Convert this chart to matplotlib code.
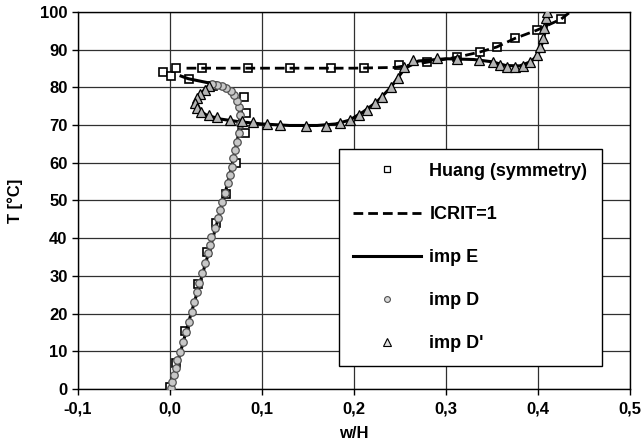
import numpy as np
import matplotlib
matplotlib.use("Agg")
import matplotlib.pyplot as plt
from matplotlib.lines import Line2D

plt.rcParams['font.family'] = ['Liberation Sans', 'DejaVu Sans']
plt.rcParams['font.weight'] = 'bold'

nan = np.nan

# Huang (symmetry) - squares
huang_w = [-0.008, 0.001, 0.0065, 0.021, 0.035, 0.047, 0.085, 0.080, 0.083, 0.082,
           0.072, 0.061, 0.050, 0.040, 0.030, 0.016, 0.0065, 0.000,
           0.130, 0.175, 0.211, 0.249, 0.279, 0.312, 0.337, 0.355, 0.375, 0.399, 0.425]
huang_T = [84.1, 83.0, 85.1, 82.2, 85.1, 80.4, 85.1, 77.5, 73.2, 67.9,
           59.9, 51.8, 44.0, 36.3, 27.8, 15.3, 6.9, 0.4,
           85.1, 85.1, 85.1, 86.0, 86.7, 88.0, 89.4, 90.7, 93.1, 95.2, 98.1]

# ICRIT=1 - dashed line
icrit_w = [0.018, 0.05, 0.10, 0.15, 0.20, 0.245, 0.28, 0.312, 0.337, 0.355, 0.375, 0.399, 0.425, 0.435]
icrit_T = [85.1, 85.1, 85.1, 85.1, 85.1, 85.3, 86.7, 88.0, 89.4, 90.7, 93.0, 95.2, 98.1, 100.0]

# imp E - solid line (two branches)
impE_w = [0.000, 0.010, 0.020, 0.030, 0.040, 0.050, 0.060, 0.068, 0.074, 0.076, 0.075, 0.071,
          0.065, 0.058, 0.050, 0.040, 0.030, 0.020, 0.012, nan,
          0.040, 0.032, 0.028, 0.031, 0.040, 0.055, 0.075, 0.100, 0.130, 0.160, 0.180, 0.195,
          0.210, 0.225, 0.240, 0.255, 0.270, 0.300, 0.330, 0.350, 0.365, 0.380, 0.392, 0.400,
          0.405, 0.409, 0.412]
impE_T = [0.0, 8.5, 17.5, 26.0, 34.5, 43.0, 52.0, 60.0, 67.0, 72.0, 75.0, 77.8,
          79.4, 80.4, 80.9, 81.3, 81.8, 82.3, 83.0, nan,
          80.0, 78.0, 76.0, 74.0, 72.6, 71.6, 70.9, 70.3, 69.9, 69.9, 70.3, 71.3,
          73.5, 76.2, 80.0, 85.0, 87.0, 87.6, 87.4, 86.8, 85.8, 85.7, 86.8, 88.6,
          92.0, 96.0, 100.0]

# imp D - circles
impD_w = [0.001, 0.002, 0.004, 0.006, 0.008, 0.011, 0.014, 0.017, 0.021, 0.024, 0.026, 0.029,
          0.032, 0.035, 0.038, 0.041, 0.043, 0.045, 0.049, 0.052, 0.054, 0.057, 0.060, 0.063,
          0.065, 0.067, 0.069, 0.071, 0.073, 0.075, 0.076, 0.076, 0.075, 0.073, 0.070, 0.066,
          0.061, 0.056, 0.051, 0.046]
impD_T = [0.3, 1.9, 3.7, 5.6, 7.7, 9.8, 12.5, 15.1, 17.8, 20.4, 23.1, 25.7,
          28.1, 30.8, 33.4, 36.1, 38.2, 40.3, 42.7, 45.4, 47.5, 49.6, 52.0, 54.6,
          56.8, 58.9, 61.3, 63.4, 65.5, 67.9, 70.3, 72.6, 74.7, 76.5, 78.0, 79.1,
          79.9, 80.4, 80.7, 80.8]

# imp D' - triangles
impDp_w = [0.042, 0.038, 0.033, 0.029, 0.027, 0.029, 0.034, 0.042, 0.051, 0.065, 0.078, 0.090,
           0.105, 0.120, 0.148, 0.170, 0.185, 0.196, 0.205, 0.214, 0.223, 0.230, 0.240, 0.248,
           0.254, 0.264, 0.290, 0.312, 0.336, 0.351, 0.359, 0.366, 0.375, 0.384, 0.391, 0.399,
           0.402, 0.405, 0.407, 0.409, 0.410]
impDp_T = [80.4, 79.3, 78.3, 77.2, 75.9, 74.6, 73.5, 72.7, 72.1, 71.4, 71.0, 70.8,
           70.3, 70.0, 69.8, 69.8, 70.5, 71.4, 72.7, 74.0, 75.9, 77.5, 80.0, 82.5,
           85.3, 87.4, 87.8, 87.5, 87.4, 86.7, 86.0, 85.4, 85.4, 85.7, 86.7, 88.6,
           90.7, 93.1, 95.8, 98.4, 100.0]

labels = ["Huang (symmetry)", "ICRIT=1", "imp E", "imp D", "imp D'"]
xticks = [-0.1, 0.0, 0.1, 0.2, 0.3, 0.4, 0.5]
yticks = [0, 10, 20, 30, 40, 50, 60, 70, 80, 90, 100]

fig = plt.figure(figsize=(6.43, 4.48), dpi=100)
ax = fig.add_axes([78/643, 1-389/448, (630-78)/643, (389-12)/448])

ax.plot(huang_w, huang_T, linestyle='none', marker='s', markersize=5.5,
        markerfacecolor='white', markeredgecolor='black', markeredgewidth=1.2, zorder=3)
ax.plot(icrit_w, icrit_T, color='black', linewidth=2.0, dashes=(3.5, 1.8), zorder=4)
ax.plot(impE_w, impE_T, color='black', linewidth=2.2, zorder=4)
ax.plot(impD_w, impD_T, linestyle='none', marker='o', markersize=5.4,
        markerfacecolor='#c8c8c8', markeredgecolor='#505050', markeredgewidth=0.9, zorder=5)
ax.plot(impDp_w, impDp_T, linestyle='none', marker='^', markersize=6.5,
        markerfacecolor='#b4b4b4', markeredgecolor='black', markeredgewidth=0.9, zorder=6)

ax.set_xlim(-0.1, 0.5)
ax.set_ylim(0, 100)
ax.set_xticks(xticks)
ax.set_yticks(yticks)
ax.set_xticklabels([f"{v:.1f}".replace('.', ',') for v in xticks])
ax.set_yticklabels([str(v) for v in yticks])
ax.tick_params(labelsize=12, length=4, width=1, direction='out', color='black')
ax.tick_params(axis='x', pad=5)
for lab in ax.get_xticklabels() + ax.get_yticklabels():
    lab.set_fontweight('bold')
ax.grid(True, color='#303030', linewidth=0.9)
ax.set_axisbelow(True)
for s in ax.spines.values():
    s.set_color('black')
    s.set_linewidth(1.0)

ax.set_xlabel("w/H", fontsize=12, fontweight='bold', labelpad=7)
ax.set_ylabel("T [°C]", fontsize=12, fontweight='bold', labelpad=12)

handles = [
    Line2D([], [], linestyle='none', marker='s', markersize=4.5, markerfacecolor='white',
           markeredgecolor='black', markeredgewidth=0.9),
    Line2D([], [], color='black', linewidth=2.0, dashes=(3.5, 1.8)),
    Line2D([], [], color='black', linewidth=2.2),
    Line2D([], [], linestyle='none', marker='o', markersize=4.2, markerfacecolor='#d8d8d8',
           markeredgecolor='#505050', markeredgewidth=0.8),
    Line2D([], [], linestyle='none', marker='^', markersize=5.5, markerfacecolor='#e0e0e0',
           markeredgecolor='black', markeredgewidth=0.8),
]
leg = ax.legend(handles, labels, loc='lower left', bbox_to_anchor=(0.473, 0.061, 0.476, 0.576),
                mode='expand', prop={'weight': 'bold', 'size': 13},
                frameon=True, fancybox=False, framealpha=1, edgecolor='black',
                handlelength=3.8, handletextpad=0.45, labelspacing=1.45, borderpad=0.75,
                borderaxespad=0, numpoints=1)
leg.get_frame().set_linewidth(1.0)
leg.set_zorder(10)

fig.savefig("out.png", dpi=100)
